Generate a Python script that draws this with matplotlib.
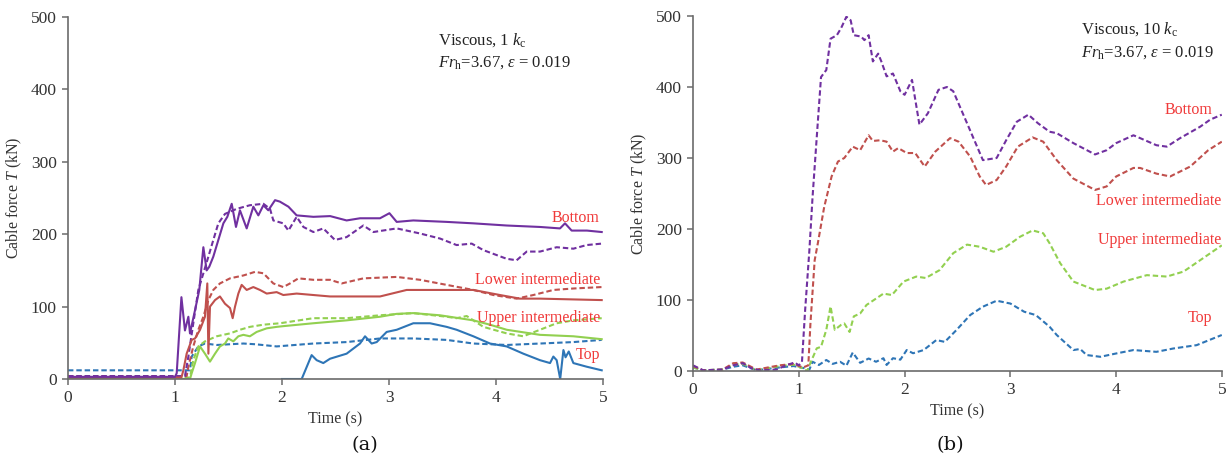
import matplotlib
matplotlib.use('Agg')
import matplotlib.pyplot as plt

plt.rcParams.update({
    'font.family': 'Liberation Serif',
    'mathtext.fontset': 'custom',
    'mathtext.rm': 'Liberation Serif',
    'mathtext.it': 'Liberation Serif:italic',
})

# ---------------- data: (a) viscous, 1 kc ----------------
# solid = experiment, dashed = numerical
t_bot_exp = [0, 0.5, 1.0, 1.016, 1.06, 1.093, 1.125, 1.14, 1.187, 1.227,
             1.265, 1.296, 1.32, 1.358, 1.405, 1.452, 1.489, 1.53, 1.57, 1.607,
             1.67, 1.732, 1.779, 1.826, 1.872, 1.935, 1.98, 2.06, 2.137, 2.293,
             2.45, 2.604, 2.729, 2.916, 3.004, 3.072, 3.227, 3.539, 3.788, 4.1,
             4.411, 4.598, 4.645, 4.707, 4.85, 4.988]
T_bot_exp = [3, 3, 3, 8, 113, 67, 86, 63, 95, 123,
             182, 150, 155, 169, 192, 215, 224, 242, 210, 233,
             208, 238, 226, 240, 233, 247, 245, 238, 226, 224,
             225, 219, 222, 222, 229, 217, 219, 217, 215, 212,
             210, 208, 215, 205, 205, 203]
t_bot_num = [0, 1.093, 1.125, 1.171, 1.218, 1.265, 1.312, 1.358, 1.405, 1.467,
             1.576, 1.70, 1.826, 1.888, 1.919, 2.012, 2.06, 2.137, 2.2, 2.293,
             2.386, 2.495, 2.604, 2.76, 2.854, 3.072, 3.29, 3.477, 3.632, 3.773,
             3.882, 4.1, 4.193, 4.287, 4.411, 4.567, 4.723, 4.847, 4.988]
T_bot_num = [4, 4, 31, 77, 123, 146, 169, 192, 215, 228,
             235, 240, 242, 235, 219, 215, 205, 224, 210, 203,
             208, 192, 196, 212, 203, 208, 201, 194, 185, 187,
             178, 166, 164, 176, 176, 182, 180, 185, 187]

t_low_exp = [0, 1.06, 1.078, 1.109, 1.156, 1.187, 1.234, 1.28, 1.302, 1.312,
             1.327, 1.374, 1.42, 1.467, 1.514, 1.539, 1.561, 1.592, 1.623, 1.67,
             1.732, 1.794, 1.857, 1.95, 2.012, 2.137, 2.449, 2.916, 3.165, 3.539,
             3.788, 4.037, 4.224, 4.411, 4.988]
T_low_exp = [2, 2, 12, 35, 54, 56, 68, 86, 132, 35,
             100, 109, 114, 104, 98, 84, 100, 118, 130, 123,
             127, 123, 118, 120, 116, 118, 114, 114, 123, 123,
             123, 116, 111, 111, 109]
t_low_num = [0, 1.109, 1.125, 1.171, 1.218, 1.265, 1.312, 1.358, 1.42, 1.514,
             1.639, 1.748, 1.826, 1.919, 2.012, 2.075, 2.153, 2.293, 2.449, 2.558,
             2.76, 3.072, 3.29, 3.539, 3.788, 3.975, 4.193, 4.349, 4.536, 4.723,
             4.988]
T_low_num = [4, 4, 17, 45, 68, 86, 109, 123, 132, 139,
             143, 148, 146, 132, 127, 132, 139, 137, 137, 132,
             139, 141, 137, 130, 123, 116, 111, 116, 123, 125,
             127]

t_up_exp = [0, 1.14, 1.156, 1.187, 1.234, 1.28, 1.327, 1.374, 1.42, 1.467,
            1.498, 1.545, 1.592, 1.639, 1.70, 1.763, 1.857, 1.95, 2.012, 2.293,
            2.604, 2.916, 3.072, 3.227, 3.477, 3.788, 3.944, 4.1, 4.411, 4.723,
            4.988]
T_up_exp = [0, 0, 8, 22, 45, 35, 24, 35, 45, 49,
            56, 52, 59, 61, 59, 65, 70, 72, 73, 77,
            81, 86, 90, 91, 88, 81, 75, 68, 61, 59,
            55]
t_up_num = [0, 1.14, 1.171, 1.218, 1.28, 1.39, 1.514, 1.607, 1.70, 1.826,
            1.981, 2.293, 2.604, 2.916, 3.227, 3.539, 3.632, 3.726, 3.882, 4.1,
            4.255, 4.411, 4.567, 4.723, 4.988]
T_up_num = [2, 2, 26, 45, 52, 59, 63, 68, 72, 75,
            77, 84, 84, 88, 91, 86, 84, 87, 72, 63,
            59, 68, 77, 81, 84]

t_top_exp = [2.0, 2.184, 2.277, 2.324, 2.386, 2.449, 2.604, 2.729, 2.776, 2.838,
             2.885, 2.978, 3.072, 3.227, 3.383, 3.539, 3.632, 3.788, 3.944, 4.1,
             4.255, 4.411, 4.505, 4.536, 4.567, 4.60, 4.63, 4.65, 4.68, 4.723,
             4.847, 4.988]
T_top_exp = [0, 0, 33, 26, 22, 28, 35, 49, 59, 49,
             51, 65, 68, 77, 77, 72, 68, 59, 49, 45,
             35, 26, 22, 31, 26, 0, 40, 30, 38, 22,
             17, 12]
t_top_num = [0, 1.14, 1.156, 1.218, 1.28, 1.39, 1.639, 1.75, 1.95, 2.293,
             2.604, 2.916, 3.227, 3.539, 3.788, 4.1, 4.411, 4.723, 4.988]
T_top_num = [12, 12, 31, 45, 49, 47, 49, 48, 45, 49,
             51, 56, 56, 54, 49, 47, 49, 51, 54]

# ---------------- data: (b) viscous, 10 kc (numerical) ----------------
tb_bot = [0, 0.095, 0.28, 0.38, 0.47, 0.55, 0.63, 0.79, 0.88, 0.96,
          1.0, 1.03, 1.06, 1.10, 1.13, 1.17, 1.21, 1.26, 1.30, 1.36,
          1.40, 1.45, 1.49, 1.52, 1.59, 1.62, 1.66, 1.70, 1.75, 1.78,
          1.83, 1.89, 1.96, 2.0, 2.07, 2.14, 2.22, 2.32, 2.40, 2.46,
          2.59, 2.74, 2.87, 2.96, 3.06, 3.17, 3.26, 3.37, 3.438, 3.595,
          3.80, 3.91, 4.0, 4.163, 4.226, 4.38, 4.478, 4.604, 4.793, 4.888,
          4.998]
Tb_bot = [8, 1, 2, 8, 11, 4, 1, 2, 8, 12,
          8, 13, 86, 170, 245, 330, 414, 424, 468, 473,
          483, 499, 494, 473, 471, 466, 473, 436, 447, 436,
          415, 419, 394, 389, 410, 347, 363, 396, 400, 394,
          349, 297, 300, 325, 351, 361, 349, 337, 335, 321,
          305, 311, 321, 332, 328, 318, 316, 328, 344, 354,
          361]
tb_low = [0, 0.095, 0.28, 0.38, 0.47, 0.60, 0.82, 0.95, 1.04, 1.09,
          1.11, 1.15, 1.18, 1.24, 1.31, 1.37, 1.43, 1.51, 1.58, 1.66,
          1.70, 1.77, 1.83, 1.89, 1.94, 2.02, 2.10, 2.19, 2.29, 2.43,
          2.51, 2.62, 2.71, 2.77, 2.87, 2.96, 3.07, 3.21, 3.31, 3.438,
          3.595, 3.80, 3.91, 4.0, 4.163, 4.226, 4.38, 4.51, 4.70, 4.87,
          4.998]
Tb_low = [7, 1, 2, 11, 12, 2, 8, 10, 5, 8,
          67, 156, 180, 231, 274, 295, 300, 316, 311, 332,
          324, 325, 323, 309, 314, 307, 307, 288, 309, 328,
          323, 302, 274, 262, 269, 288, 316, 329, 323, 297,
          271, 255, 260, 274, 286, 286, 278, 274, 288, 311,
          323]
tb_up = [0, 0.095, 0.28, 0.38, 0.47, 0.60, 0.82, 0.95, 1.05, 1.08,
         1.10, 1.17, 1.21, 1.26, 1.30, 1.34, 1.40, 1.43, 1.48, 1.52,
         1.58, 1.64, 1.76, 1.80, 1.88, 1.99, 2.11, 2.20, 2.33, 2.46,
         2.59, 2.71, 2.84, 2.96, 3.09, 3.21, 3.31, 3.37, 3.47, 3.595,
         3.80, 3.91, 4.07, 4.29, 4.478, 4.636, 4.793, 4.998]
Tb_up = [5, 1, 2, 9, 10, 1, 7, 9, 3, 0,
         8, 32, 34, 58, 91, 58, 65, 67, 55, 77,
         81, 93, 105, 109, 107, 126, 133, 131, 142, 166,
         178, 175, 168, 175, 189, 198, 194, 180, 152, 126,
         114, 116, 126, 135, 133, 140, 156, 177]
tb_top = [0, 0.095, 0.28, 0.38, 0.47, 0.60, 0.82, 0.95, 1.05, 1.10,
          1.13, 1.19, 1.26, 1.32, 1.39, 1.45, 1.51, 1.58, 1.66, 1.73,
          1.80, 1.83, 1.89, 1.96, 2.02, 2.08, 2.18, 2.30, 2.38, 2.49,
          2.62, 2.74, 2.87, 3.00, 3.13, 3.24, 3.37, 3.438, 3.595, 3.66,
          3.72, 3.85, 4.0, 4.163, 4.38, 4.54, 4.76, 4.998]
Tb_top = [5, 1, 2, 6, 8, 1, 5, 7, 4, 2,
          13, 8.5, 15.5, 10, 13, 7.5, 26, 11.5, 17.6, 13,
          18, 8.5, 18, 16, 29.5, 25, 29.5, 43.6, 41, 57.7,
          78.8, 90.6, 99, 95, 83.5, 78.8, 62.4, 50.7, 29.5, 31,
          22.5, 20, 24.7, 29.5, 27, 31.7, 36.4, 50.7]

labels = ['Bottom', 'Lower intermediate', 'Upper intermediate', 'Top']
lab_y_a = [222, 137, 84, 33]
lab_y_b = [367, 239, 184, 74]

# ---------------- style ----------------
C_PUR, C_RED, C_GRN, C_BLU = '#7030a0', '#c0504d', '#92d050', '#2e75b6'
C_LAB = '#f03a3a'
C_AX = '#6b6b6b'
DASH = (2.6, 1.4)

fig = plt.figure(figsize=(12.29, 4.62), dpi=100)
W, H = 1229, 462
ax1 = fig.add_axes([68 / W, 1 - 379 / H, (603 - 68) / W, (379 - 17) / H])
ax2 = fig.add_axes([693 / W, 1 - 371 / H, (1222 - 693) / W, (371 - 16) / H])


def style(ax):
    ax.set_xlim(0, 5)
    ax.set_ylim(0, 500)
    ax.set_xticks(range(6))
    ax.set_yticks(range(0, 501, 100))
    for s in ('top', 'right'):
        ax.spines[s].set_visible(False)
    for s in ('left', 'bottom'):
        ax.spines[s].set_color(C_AX)
        ax.spines[s].set_linewidth(1.2)
    ax.tick_params(direction='out', length=4, width=1.1, color=C_AX,
                   labelsize=12.5, labelcolor='#333333', pad=4)
    ax.set_xlabel('Time (s)', fontsize=11.5, color='#333333', labelpad=4)
    ax.set_ylabel('Cable force $T$ (kN)', fontsize=11.5, color='#333333', labelpad=5)


# (a)
ax1.plot(t_top_num, T_top_num, ls='--', dashes=DASH, color=C_BLU, lw=1.5)
ax1.plot(t_up_num, T_up_num, ls='--', dashes=DASH, color=C_GRN, lw=1.5)
ax1.plot(t_low_num, T_low_num, ls='--', dashes=DASH, color=C_RED, lw=1.5)
ax1.plot(t_bot_num, T_bot_num, ls='--', dashes=DASH, color=C_PUR, lw=1.5)
ax1.plot(t_top_exp, T_top_exp, color=C_BLU, lw=1.5)
ax1.plot(t_up_exp, T_up_exp, color=C_GRN, lw=1.5)
ax1.plot(t_low_exp, T_low_exp, color=C_RED, lw=1.5)
ax1.plot(t_bot_exp, T_bot_exp, color=C_PUR, lw=1.5)
style(ax1)
ax1.text(3.46, 468, 'Viscous, 1 $k_\\mathrm{c}$', fontsize=12, color='#222222', va='center')
ax1.text(3.46, 437, '$Fr_\\mathrm{h}$=3.67, $\\varepsilon$ = 0.019', fontsize=12,
         color='#222222', va='center')
for lab, y in zip(labels, lab_y_a):
    ax1.text(4.97, y, lab, fontsize=11.5, color=C_LAB, ha='right', va='center')

# (b)
ax2.plot(tb_top, Tb_top, ls='--', dashes=DASH, color=C_BLU, lw=1.5)
ax2.plot(tb_up, Tb_up, ls='--', dashes=DASH, color=C_GRN, lw=1.5)
ax2.plot(tb_low, Tb_low, ls='--', dashes=DASH, color=C_RED, lw=1.5)
ax2.plot(tb_bot, Tb_bot, ls='--', dashes=DASH, color=C_PUR, lw=1.5)
style(ax2)
ax2.text(3.67, 481, 'Viscous, 10 $k_\\mathrm{c}$', fontsize=12, color='#222222', va='center')
ax2.text(3.67, 448, '$Fr_\\mathrm{h}$=3.67, $\\varepsilon$ = 0.019', fontsize=12,
         color='#222222', va='center')
for lab, y, x in zip(labels, lab_y_b, [4.91, 4.99, 4.99, 4.91]):
    ax2.text(x, y, lab, fontsize=11.5, color=C_LAB, ha='right', va='center')

fig.text(365 / W, 1 - 445 / H, '(a)', fontsize=14, family='DejaVu Serif',
         ha='center', va='center', color='#111111')
fig.text(950 / W, 1 - 445 / H, '(b)', fontsize=14, family='DejaVu Serif',
         ha='center', va='center', color='#111111')

fig.savefig('out.png', dpi=100)
